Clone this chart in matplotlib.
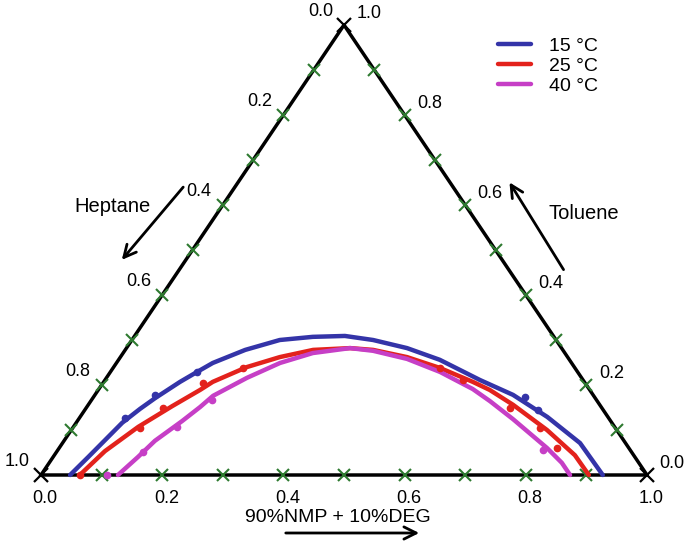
import matplotlib
matplotlib.use('Agg')
import numpy as np
import matplotlib.pyplot as plt

plt.rcParams['font.family'] = ['Liberation Sans', 'DejaVu Sans']

# ternary data: S = 90%NMP + 10%DEG fraction (bottom axis), T = toluene fraction
# binodal curves
blue_S = [0.048, 0.058, 0.067, 0.076, 0.090, 0.103, 0.126, 0.143, 0.159, 0.198, 0.244, 0.295,
          0.347, 0.398, 0.463, 0.530, 0.619, 0.690, 0.771, 0.854, 0.927]
blue_T = [0.000, 0.040, 0.078, 0.116, 0.147, 0.171, 0.207, 0.229, 0.249, 0.278, 0.300, 0.307,
          0.309, 0.300, 0.282, 0.256, 0.211, 0.178, 0.129, 0.071, 0.000]
red_S = [0.064, 0.079, 0.107, 0.140, 0.168, 0.180, 0.220, 0.263, 0.310, 0.369, 0.409, 0.473,
         0.539, 0.609, 0.646, 0.701, 0.785, 0.859, 0.904]
red_T = [0.000, 0.053, 0.107, 0.153, 0.189, 0.207, 0.240, 0.262, 0.278, 0.282, 0.278, 0.262,
         0.238, 0.207, 0.189, 0.156, 0.100, 0.044, 0.000]
mag_S = [0.127, 0.140, 0.150, 0.173, 0.187, 0.196, 0.232, 0.270, 0.313, 0.369, 0.410, 0.475,
         0.544, 0.617, 0.659, 0.717, 0.805, 0.846, 0.873]
mag_T = [0.000, 0.040, 0.076, 0.120, 0.151, 0.176, 0.216, 0.249, 0.271, 0.282, 0.276, 0.258,
         0.229, 0.191, 0.164, 0.124, 0.060, 0.027, 0.000]

# experimental points
blue_pts_S = [0.075, 0.099, 0.143, 0.712, 0.748]
blue_pts_T = [0.127, 0.178, 0.229, 0.173, 0.144]
red_pts_S = [0.064, 0.111, 0.127, 0.165, 0.214, 0.539, 0.591, 0.699, 0.771, 0.821]
red_pts_T = [0.000, 0.104, 0.149, 0.204, 0.238, 0.238, 0.211, 0.149, 0.104, 0.060]
mag_pts_S = [0.109, 0.143, 0.171, 0.199, 0.800]
mag_pts_T = [0.000, 0.051, 0.107, 0.167, 0.056]

series = [
    ('15 °C', '#3434a8', blue_S, blue_T, blue_pts_S, blue_pts_T),
    ('25 °C', '#e3221c', red_S, red_T, red_pts_S, red_pts_T),
    ('40 °C', '#c63fc6', mag_S, mag_T, mag_pts_S, mag_pts_T),
]

ticks = np.round(np.arange(0.1, 1.0, 0.1), 1)
label_vals = [0.0, 0.2, 0.4, 0.6, 0.8, 1.0]


def to_xy(s, t):
    s = np.asarray(s, dtype=float)
    t = np.asarray(t, dtype=float)
    return s + t / 2, t


fig = plt.figure(figsize=(6.89, 5.44), dpi=100)
ax = fig.add_axes([0, 0, 1, 1])
ax.set_xlim(-41 / 606, 648 / 606)
ax.set_ylim(-69 / 450, 475 / 450)
ax.axis('off')

# triangle frame
ax.plot([0, 1, 0.5, 0], [0, 0, 1, 0], color='black', lw=2.5, zorder=2)
ax.plot([0, 1, 0.5], [0, 0, 1], 'x', color='black', ms=10, mew=1.6, zorder=3, ls='none')

green = '#2e7a30'
# bottom axis ticks (solvent)
bx, by = to_xy(ticks, np.zeros_like(ticks))
ax.plot(bx, by, 'x', color=green, ms=9, mew=1.5, zorder=3, ls='none')
# left axis ticks (heptane, 0 at top)
lx, ly = to_xy(np.zeros_like(ticks), 1 - ticks)
ax.plot(lx, ly, 'x', color=green, ms=9, mew=1.5, zorder=3, ls='none')
# right axis ticks (toluene, 0 at bottom right)
rx, ry = to_xy(1 - ticks, ticks)
ax.plot(rx, ry, 'x', color=green, ms=9, mew=1.5, zorder=3, ls='none')

fs = 13
for v in label_vals:
    x, y = to_xy(v, 0)
    ax.annotate(f'{v:.1f}', (x, y), xytext=(3, -17), textcoords='offset points',
                ha='center', va='center', fontsize=fs)
    x, y = to_xy(0, 1 - v)
    ax.annotate(f'{v:.1f}', (x, y), xytext=(-17, 10), textcoords='offset points',
                ha='center', va='center', fontsize=fs)
    x, y = to_xy(1 - v, v)
    ax.annotate(f'{v:.1f}', (x, y), xytext=(18, 8), textcoords='offset points',
                ha='center', va='center', fontsize=fs)

for label, color, s, t, ps, pt in series:
    x, y = to_xy(s, t)
    ax.plot(x, y, color=color, lw=3.2, label=label, zorder=4,
            solid_capstyle='round', solid_joinstyle='round')
    px, py = to_xy(ps, pt)
    ax.plot(px, py, 'o', color=color, ms=4.5, zorder=5, ls='none')

ax.legend(loc='upper right', bbox_to_anchor=(0.89, 0.96), frameon=False, fontsize=14,
          handlelength=1.7, handletextpad=0.9, labelspacing=0.12, borderpad=0.3)

# direction arrows and component names
arrow = dict(arrowstyle='->', color='black', lw=2, mutation_scale=22)
ax.annotate('', xy=(120 / 689, 1 - 262 / 544), xytext=(185 / 689, 1 - 185 / 544),
            xycoords='axes fraction', arrowprops=arrow)
ax.text(112 / 689, 1 - 206 / 544, 'Heptane', transform=ax.transAxes,
        ha='center', va='center', fontsize=14.5)
ax.annotate('', xy=(508 / 689, 1 - 180 / 544), xytext=(565 / 689, 1 - 272 / 544),
            xycoords='axes fraction', arrowprops=arrow)
ax.text(584 / 689, 1 - 214 / 544, 'Toluene', transform=ax.transAxes,
        ha='center', va='center', fontsize=14.5)
ax.annotate('', xy=(422 / 689, 1 - 533 / 544), xytext=(283 / 689, 1 - 533 / 544),
            xycoords='axes fraction', arrowprops=arrow)
ax.text(338 / 689, 1 - 517 / 544, '90%NMP + 10%DEG', transform=ax.transAxes,
        ha='center', va='center', fontsize=14)

fig.savefig('out.png', dpi=100)
